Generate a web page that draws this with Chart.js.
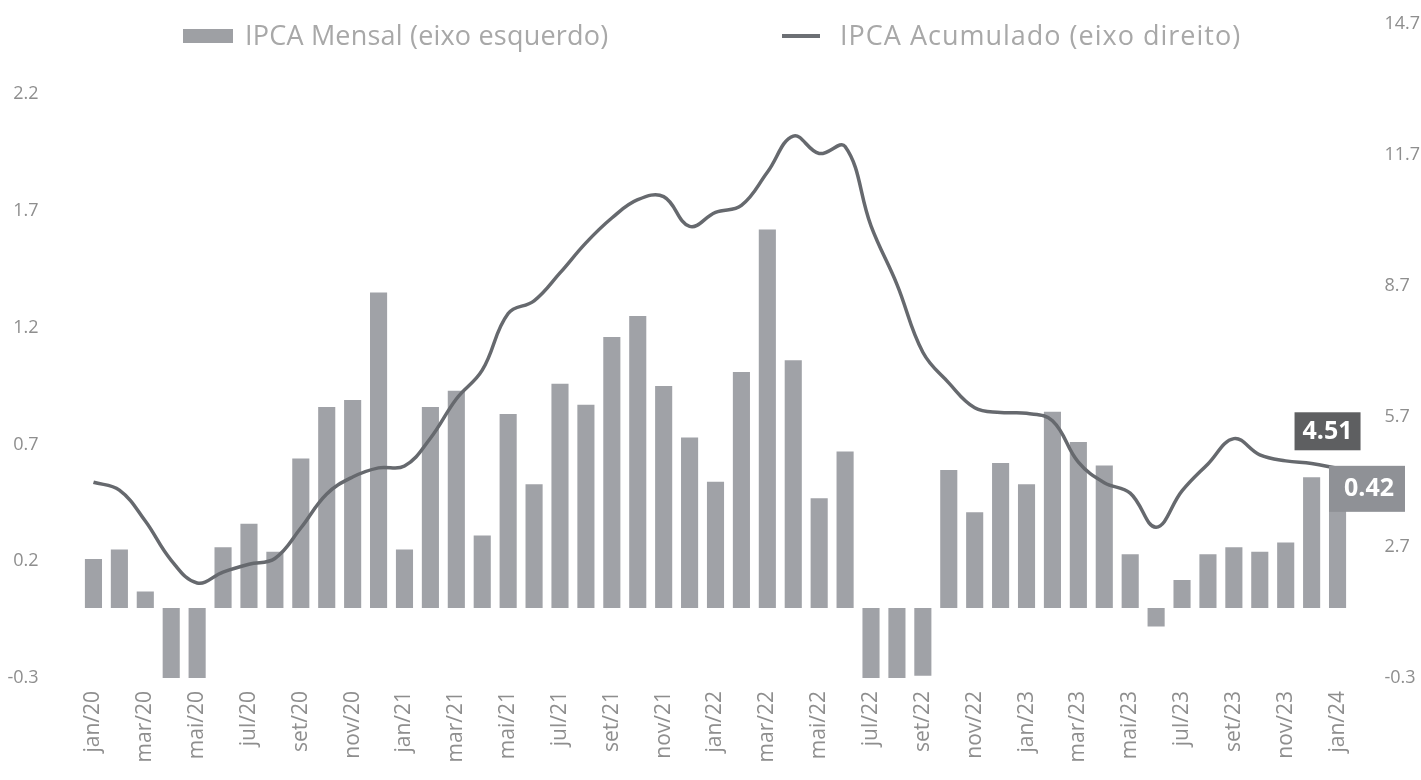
<!DOCTYPE html>
<html>
<head>
<meta charset="utf-8">
<script src="https://cdn.jsdelivr.net/npm/chart.js@4"></script>
<style>
  html, body { margin: 0; padding: 0; background: #ffffff; }
  #wrap { position: relative; width: 1421px; height: 780px; }
  #legend { position: absolute; left: 0; top: 0; width: 1421px; height: 60px; font-family: 'Open Sans', sans-serif; font-size: 27px; color: #a8a8a8; }
  .sw { position: absolute; }
  .lg { position: absolute; top: 16px; line-height: 38px; white-space: nowrap; letter-spacing: 0.2px; }
</style>
</head>
<body>
<div id="wrap">
  <canvas id="ipcaChart"></canvas>
  <div id="legend">
    <div class="sw" style="left:183px; top:29px; width:50px; height:14px; background:#9ea0a4;"></div>
    <div class="lg" style="left:245px;">IPCA Mensal (eixo esquerdo)</div>
    <div class="sw" style="left:782px; top:34px; width:38px; height:4px; background:#6c6f74;"></div>
    <div class="lg" style="left:840px; letter-spacing:1px;">IPCA Acumulado (eixo direito)</div>
  </div>
</div>
<script>
// meses jan/20 .. jan/24
const meses = [
  'jan/20','fev/20','mar/20','abr/20','mai/20','jun/20','jul/20','ago/20','set/20','out/20','nov/20','dez/20',
  'jan/21','fev/21','mar/21','abr/21','mai/21','jun/21','jul/21','ago/21','set/21','out/21','nov/21','dez/21',
  'jan/22','fev/22','mar/22','abr/22','mai/22','jun/22','jul/22','ago/22','set/22','out/22','nov/22','dez/22',
  'jan/23','fev/23','mar/23','abr/23','mai/23','jun/23','jul/23','ago/23','set/23','out/23','nov/23','dez/23',
  'jan/24'
];
// IPCA mensal (%)
const ipcaMensal = [
  0.21, 0.25, 0.07, -0.31, -0.38, 0.26, 0.36, 0.24, 0.64, 0.86, 0.89, 1.35,
  0.25, 0.86, 0.93, 0.31, 0.83, 0.53, 0.96, 0.87, 1.16, 1.25, 0.95, 0.73,
  0.54, 1.01, 1.62, 1.06, 0.47, 0.67, -0.68, -0.36, -0.29, 0.59, 0.41, 0.62,
  0.53, 0.84, 0.71, 0.61, 0.23, -0.08, 0.12, 0.23, 0.26, 0.24, 0.28, 0.56,
  0.42
];
// IPCA acumulado 12 meses (%)
const ipcaAcumulado = [
  4.19, 4.01, 3.30, 2.40, 1.88, 2.13, 2.31, 2.44, 3.14, 3.92, 4.31, 4.52,
  4.56, 5.20, 6.10, 6.76, 8.06, 8.35, 8.99, 9.68, 10.25, 10.67, 10.74, 10.06,
  10.38, 10.54, 11.30, 12.13, 11.73, 11.89, 10.07, 8.73, 7.17, 6.47, 5.90, 5.79,
  5.77, 5.60, 4.65, 4.18, 3.94, 3.16, 3.99, 4.61, 5.19, 4.82, 4.68, 4.62,
  4.51
];
const ticksEsquerdo = [-0.3, 0.2, 0.7, 1.2, 1.7, 2.2];
const ticksDireito = [-0.3, 2.7, 5.7, 8.7, 11.7, 14.7];

const corBarra = '#a0a2a7';
const corLinha = '#66696e';
const corTexto = '#8e8e8e';
const fonte = "'Open Sans', sans-serif";

// caixas com os últimos valores
const rotulosFinais = {
  id: 'rotulosFinais',
  afterDatasetsDraw(chart) {
    const ctx = chart.ctx;
    const linha = chart.getDatasetMeta(0).data[ipcaAcumulado.length - 1];
    const barra = chart.getDatasetMeta(1).data[ipcaMensal.length - 1];
    ctx.save();
    ctx.font = "bold 25px " + fonte;
    ctx.textAlign = 'center';
    ctx.textBaseline = 'middle';

    // 4.51
    let cx = linha.x - 10, cy = linha.y - 37;
    ctx.fillStyle = '#5e5f61';
    ctx.fillRect(cx - 33, cy - 19, 66, 38);
    ctx.fillStyle = '#ffffff';
    ctx.fillText(ipcaAcumulado[ipcaAcumulado.length - 1].toFixed(2), cx, cy + 1);

    // 0.42
    const left = barra.x - barra.width / 2;
    ctx.fillStyle = '#8f9196';
    ctx.fillRect(left, barra.y - 44, 76, 46);
    ctx.fillStyle = '#ffffff';
    ctx.fillText(ipcaMensal[ipcaMensal.length - 1].toFixed(2), left + 40, barra.y - 21);
    ctx.restore();
  }
};

// largura fixa do eixo, sem a folga vertical que o padding dos ticks acrescenta
function fixarEixoY(largura) {
  return function(scale) {
    scale.width = largura;
    scale.paddingTop = 0;
    scale.paddingBottom = 0;
  };
}

document.addEventListener('DOMContentLoaded', function() {
  const ctx = document.getElementById('ipcaChart').getContext('2d');
  new Chart(ctx, {
    data: {
      labels: meses,
      datasets: [
        {
          type: 'line',
          label: 'IPCA Acumulado (eixo direito)',
          data: ipcaAcumulado,
          borderColor: corLinha,
          borderWidth: 3.5,
          pointRadius: 0,
          tension: 0.4,
          yAxisID: 'y1',
          order: 0
        },
        {
          type: 'bar',
          label: 'IPCA Mensal (eixo esquerdo)',
          data: ipcaMensal,
          backgroundColor: corBarra,
          barPercentage: 0.66,
          categoryPercentage: 1,
          yAxisID: 'y',
          order: 1
        }
      ]
    },
    options: {
      responsive: true,
      maintainAspectRatio: false,
      animation: false,
      layout: { padding: { top: 24, left: 0, right: 0, bottom: 0 } },
      plugins: {
        legend: { display: false },
        tooltip: { enabled: false }
      },
      scales: {
        x: {
          grid: { display: false, drawTicks: false },
          border: { display: false },
          afterFit: function(scale) { scale.height = 102; },
          ticks: {
            autoSkip: false,
            maxRotation: 90,
            minRotation: 90,
            padding: 13,
            color: corTexto,
            font: { family: fonte, size: 21 },
            callback: function(val, idx) {
              return idx % 2 === 0 ? this.getLabelForValue(val) : '';
            }
          }
        },
        y: {
          position: 'left',
          min: -0.3,
          max: 2.5,
          grid: { display: false, drawTicks: false },
          border: { display: false },
          afterFit: fixarEixoY(80.5),
          afterBuildTicks: function(scale) {
            scale.ticks = ticksEsquerdo.map(v => ({ value: v }));
          },
          ticks: {
            padding: 42,
            color: corTexto,
            font: { family: fonte, size: 18 },
            callback: v => v.toFixed(1)
          }
        },
        y1: {
          position: 'right',
          min: -0.3,
          max: 14.7,
          grid: { display: false, drawTicks: false },
          border: { display: false },
          afterFit: fixarEixoY(70.5),
          afterBuildTicks: function(scale) {
            scale.ticks = ticksDireito.map(v => ({ value: v }));
          },
          ticks: {
            padding: 34,
            color: corTexto,
            font: { family: fonte, size: 18 },
            callback: v => v.toFixed(1)
          }
        }
      }
    },
    plugins: [rotulosFinais]
  });
});
</script>
</body>
</html>
